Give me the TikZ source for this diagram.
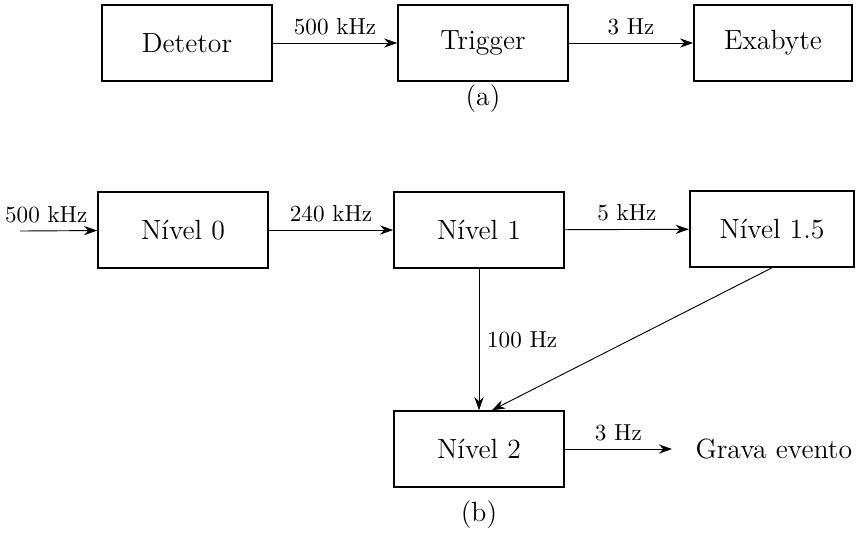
\documentclass[tikz,border=0pt]{standalone}
\usepackage{tikz}
\usetikzlibrary{arrows.meta, positioning}

\begin{document}
\begin{tikzpicture}[
    x=0.0152cm, y=-0.0152cm,
    block/.style={rectangle, draw, thick, minimum width=2.58cm, minimum height=1.15cm, font=\large},
    flow/.style={-{Stealth[length=2mm, width=1.4mm]}},
    rate/.style={font=\normalsize, above}
]
\path[use as bounding box] (0,0) rectangle (856,541);

% (a) acquisition chain
\node[block] (det) at (187,43) {Detetor};
\node[block] (trig) at (483,43) {Trigger};
\node[block, minimum width=2.4cm] (exa) at (773,43) {Exabyte};

\draw[flow] (det) -- (trig) node[midway, rate] {500 kHz};
\draw[flow] (trig) -- (exa) node[midway, rate] {3 Hz};

\node[font=\large] (capa) at (483,99) {(a)};

% (b) trigger levels
\coordinate (in) at (20,231);
\node[block] (n0) at (183,230) {Nível 0};
\node[block] (n1) at (479,230) {Nível 1};
\node[block, minimum width=2.5cm] (n15) at (772,229) {Nível 1.5};
\node[block] (n2) at (479,449) {Nível 2};
\node[font=\large, anchor=west, inner xsep=10pt] (grava) at (672,449) {Grava evento};

\draw[flow] (in) -- (n0) node[pos=0.34, rate] {500 kHz};
\draw[flow] (n0) -- (n1) node[midway, rate] {240 kHz};
\draw[flow] (n1) -- (n15) node[midway, rate] {5 kHz};
\draw[flow] (n1) -- (n2) node[midway, right] {100 Hz};
\draw[flow] (n15.south) -- ([xshift=5.6pt]n2.north);
\draw[flow] (n2) -- (grava) node[midway, rate] {3 Hz};

\node[font=\large] (capb) at (479,515) {(b)};

\end{tikzpicture}
\end{document}
